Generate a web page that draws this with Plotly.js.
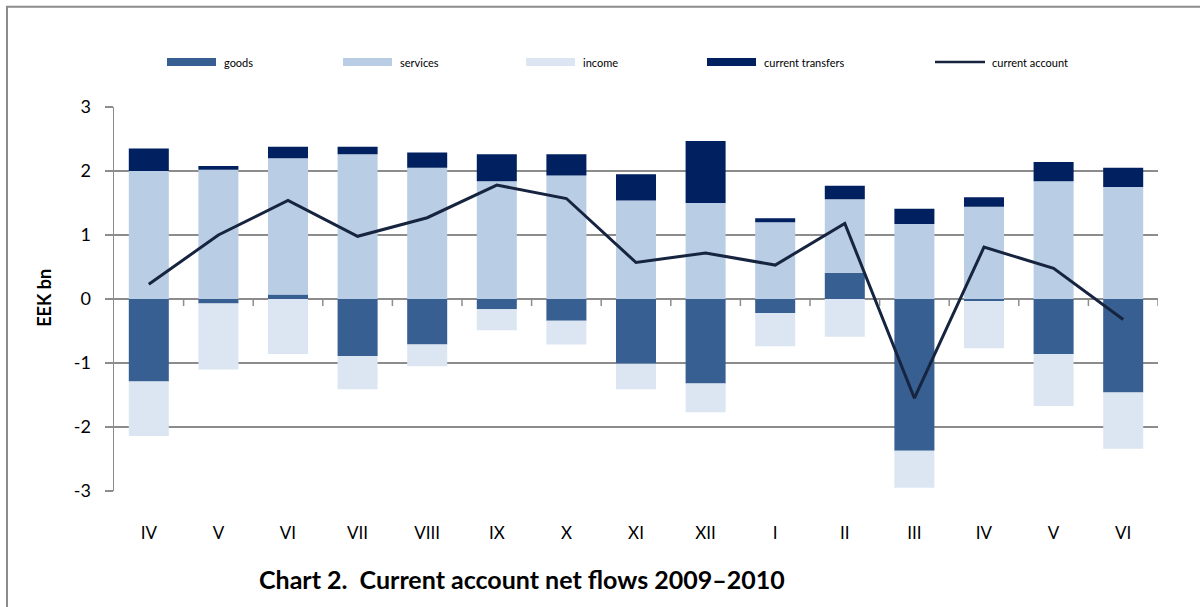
<!DOCTYPE html>
<html>
<head>
<meta charset="utf-8">
<script src="https://cdn.plot.ly/plotly-3.0.1.min.js"></script>
<style>html,body{margin:0;padding:0;background:#fff;}#chart{width:1200px;height:607px;}</style>
</head>
<body>
<div id="chart"></div>
<script>
// ---- data ----
const months = ["IV","V","VI","VII","VIII","IX","X","XI","XII","I","II","III","IV","V","VI"];
const goods = [-1.29, -0.07, 0.07, -0.89, -0.71, -0.16, -0.34, -1.01, -1.32, -0.22, 0.41, -2.37, -0.03, -0.86, -1.46];
const services = [2.00, 2.02, 2.13, 2.26, 2.05, 1.84, 1.93, 1.54, 1.50, 1.20, 1.15, 1.17, 1.44, 1.84, 1.75];
const income = [-0.85, -1.03, -0.86, -0.52, -0.34, -0.33, -0.37, -0.40, -0.45, -0.52, -0.59, -0.58, -0.74, -0.81, -0.88];
const transfers = [0.35, 0.06, 0.18, 0.12, 0.24, 0.42, 0.33, 0.41, 0.97, 0.06, 0.21, 0.24, 0.15, 0.30, 0.30];
const currentAccount = [0.23, 1.00, 1.54, 0.98, 1.27, 1.78, 1.57, 0.57, 0.72, 0.53, 1.18, -1.55, 0.81, 0.48, -0.32];
const seriesNames = ["goods", "services", "income", "current transfers", "current account"];
const yTicks = [-3, -2, -1, 0, 1, 2, 3];
const yTickText = ["-3", "-2", "-1", "0", "1", "2", "3"];

// ---- styling ----
const colors = ["#375F91", "#B9CDE5", "#DCE6F2", "#002060", "#16243F"];
const FONT = "Lato, 'Open Sans', sans-serif";
const gridC = "#8C8C8C";
const idx = months.map((m, i) => i);

const barSeries = [goods, services, income, transfers];
const traces = barSeries.map((vals, k) => ({
  type: "bar", x: idx, y: vals, name: seriesNames[k],
  marker: {color: colors[k], line: {width: 0}},
  showlegend: false, hoverinfo: "y"
}));
traces.push({
  type: "scatter", mode: "lines", x: idx, y: currentAccount, name: seriesNames[4],
  line: {color: colors[4], width: 3}, showlegend: false
});

// plot area in pixels
const L = 114, R = 1158, T = 107, B = 491.5;
const px = p => (p - L) / (R - L);
const py = p => (B - p) / (B - T);

const shapes = [];
const annotations = [];

// outer frame
shapes.push({type: "rect", xref: "paper", yref: "paper", x0: px(7), x1: px(1201), y0: py(615), y1: py(6.5),
  line: {color: "#8C8C8C", width: 2}, layer: "below"});

// category boundary ticks along zero line
for (let i = 0; i < months.length; i++) {
  shapes.push({type: "line", xref: "x", yref: "y", x0: i + 0.5, x1: i + 0.5, y0: 0, y1: -0.11,
    line: {color: gridC, width: 1.5}});
}

// manual legend
const legX = [167, 343, 526, 707, 935];
seriesNames.forEach((n, k) => {
  if (k < 4) {
    shapes.push({type: "rect", xref: "paper", yref: "paper", x0: px(legX[k]), x1: px(legX[k] + 49),
      y0: py(66), y1: py(58), fillcolor: colors[k], line: {width: 0}});
  } else {
    shapes.push({type: "line", xref: "paper", yref: "paper", x0: px(legX[k]), x1: px(legX[k] + 50),
      y0: py(62), y1: py(62), line: {color: colors[k], width: 2.5}});
  }
  annotations.push({xref: "paper", yref: "paper", x: px(legX[k] + 55), y: py(62), xanchor: "left", yanchor: "middle",
    text: n, showarrow: false, font: {family: FONT, size: 11, color: "#000"}});
});

// y title
annotations.push({xref: "paper", yref: "paper", x: px(44), y: py(298), xanchor: "center", yanchor: "middle",
  text: "<b>EEK bn</b>", textangle: -90, showarrow: false, font: {family: FONT, size: 18, color: "#000"}});

// chart title
annotations.push({xref: "paper", yref: "paper", x: px(257), y: py(580), xanchor: "left", yanchor: "middle",
  text: "<b>Chart 2.  Current account net flows 2009–2010</b>", showarrow: false,
  font: {family: FONT, size: 25, color: "#000"}});

const layout = {
  width: 1200, height: 607,
  margin: {l: L, r: 1200 - R, t: T, b: 607 - B},
  paper_bgcolor: "#fff", plot_bgcolor: "#fff",
  barmode: "relative", bargap: 0.425,
  font: {family: FONT, color: "#000"},
  showlegend: false,
  xaxis: {
    range: [-0.5, months.length - 0.5],
    tickvals: idx, ticktext: months,
    ticks: "outside", ticklen: 27, tickcolor: "rgba(0,0,0,0)",
    showgrid: false, zeroline: false, showline: false,
    tickfont: {family: FONT, size: 17, color: "#000"},
    fixedrange: true
  },
  yaxis: {
    range: [-3, 3], tickvals: yTicks, ticktext: yTickText,
    ticks: "outside", ticklen: 8, tickcolor: gridC, tickwidth: 1.5,
    showgrid: true, gridcolor: gridC, gridwidth: 1.5,
    zeroline: true, zerolinecolor: gridC, zerolinewidth: 1.5,
    showline: true, linecolor: gridC, linewidth: 1.5,
    tickfont: {family: FONT, size: 18, color: "#000"},
    ticklabelstandoff: 10,
    fixedrange: true
  },
  shapes: shapes,
  annotations: annotations
};

Plotly.newPlot("chart", traces, layout, {displayModeBar: false, staticPlot: true});
</script>
</body>
</html>
